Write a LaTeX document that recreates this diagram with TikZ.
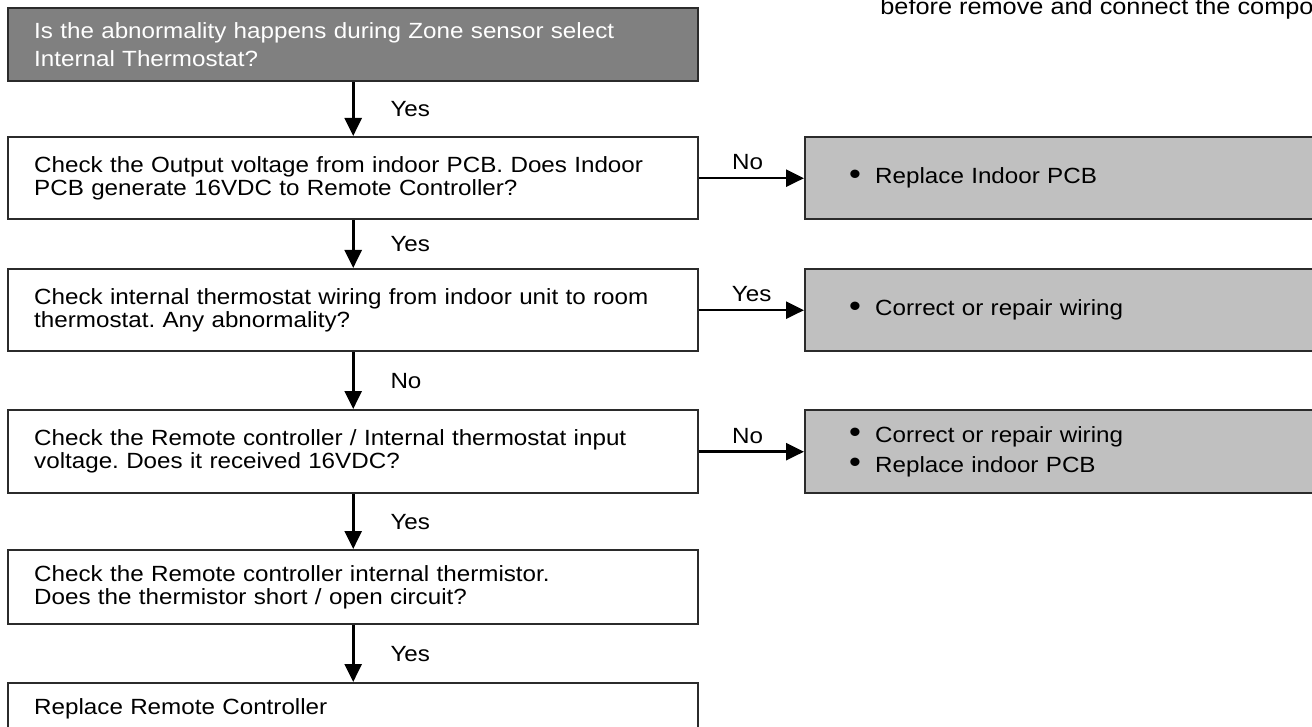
\documentclass[tikz,border=0pt]{standalone}
\usepackage{fontspec}
\setmainfont{Liberation Sans}[FakeStretch=1.1]
\usetikzlibrary{arrows.meta}
\definecolor{bordc}{HTML}{2B2B2B}
\definecolor{darkfill}{HTML}{808080}
\definecolor{lightfill}{HTML}{C0C0C0}
\newcommand\bul{\makebox[13pt][l]{\raisebox{-0.3pt}{\scalebox{1.4}{\textbullet}}}}
\frenchspacing
\begin{document}
\begin{tikzpicture}[x=0.5pt,y=-0.5pt,
  every node/.style={font=\fontsize{11}{11.4}\selectfont},
  box/.style={draw=bordc, line width=1.2pt, fill=white, anchor=north west,
    minimum width=345pt, text width=319pt, inner xsep=13pt, inner ysep=0pt, align=left},
  gbox/.style={draw=bordc, line width=1.2pt, fill=lightfill, anchor=north west,
    minimum width=266pt, text width=222pt, inner xsep=22pt, inner ysep=0pt, align=left},
  arr/.style={line width=1.3pt, -{Triangle[length=9pt,width=8.5pt]}},
  lbl/.style={inner sep=0pt},
]
\clip (0,0) rectangle (1312,727);
\fill[white] (0,0) rectangle (1312,727);

\node[anchor=base west, inner sep=0pt, font=\fontsize{11.5}{12}\selectfont] (note) at (880,15) {before remove and connect the components};

\node[box, fill=darkfill, text=white, minimum height=36.5pt,
  font=\fontsize{11}{13.6}\selectfont] (b1) at (7,7)
  {Is the abnormality happens during Zone sensor select\\Internal Thermostat?};
\node[box, minimum height=41pt] (b2) at (7,136)
  {Check the Output voltage from indoor PCB. Does Indoor\\PCB generate 16VDC to Remote Controller?};
\node[box, minimum height=41pt] (b3) at (7,268)
  {Check internal thermostat wiring from indoor unit to room\\thermostat. Any abnormality?};
\node[box, minimum height=41.5pt] (b4) at (7,409)
  {Check the Remote controller / Internal thermostat input\\voltage. Does it received 16VDC?};
\node[box, minimum height=37pt] (b5) at (7,549)
  {Check the Remote controller internal thermistor.\\Does the thermistor short / open circuit?};
\node[box, minimum height=26pt] (b6) at (7,682)
  {Replace Remote Controller};

\node[gbox, minimum height=41pt] (g1) at (804,136) {\bul Replace Indoor PCB};
\node[gbox, minimum height=41pt] (g2) at (804,268) {\bul Correct or repair wiring};
\node[gbox, minimum height=41.5pt, font=\fontsize{11}{15}\selectfont] (g3) at (804,409)
  {\bul Correct or repair wiring\\\bul Replace indoor PCB};

\draw[arr] (b1.south) -- (b2.north) node[lbl, midway, anchor=west, xshift=18pt] {Yes};
\draw[arr] (b2.south) -- (b3.north) node[lbl, midway, anchor=west, xshift=18pt] {Yes};
\draw[arr] (b3.south) -- (b4.north) node[lbl, midway, anchor=west, xshift=18pt] {No};
\draw[arr] (b4.south) -- (b5.north) node[lbl, midway, anchor=west, xshift=18pt] {Yes};
\draw[arr] (b5.south) -- (b6.north) node[lbl, midway, anchor=west, xshift=18pt] {Yes};

\draw[arr] (b2.east) -- (g1.west) node[lbl, midway, anchor=south, yshift=3.5pt, xshift=-2pt] {No};
\draw[arr] (b3.east) -- (g2.west) node[lbl, midway, anchor=south, yshift=3.5pt] {Yes};
\draw[arr] (b4.east) -- (g3.west) node[lbl, midway, anchor=south, yshift=3.5pt, xshift=-2pt] {No};
\end{tikzpicture}
\end{document}
